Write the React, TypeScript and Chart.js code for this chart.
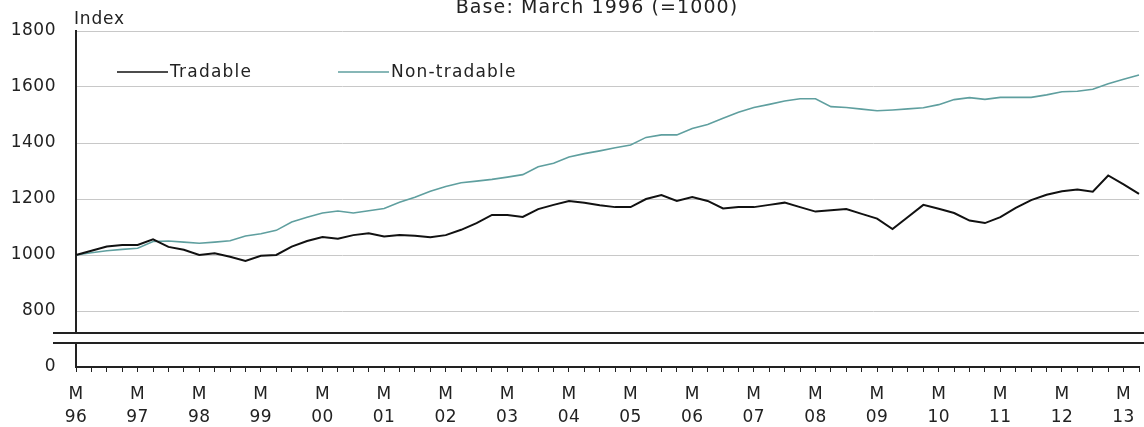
import React, { useEffect, useRef } from 'react';
import { Chart, registerables } from 'chart.js';

Chart.register(...registerables);

const YEARS = ['96', '97', '98', '99', '00', '01', '02', '03', '04', '05', '06', '07', '08', '09', '10', '11', '12', '13'];
const QUARTER_MONTHS = ['Mar', 'Jun', 'Sep', 'Dec'];
const CATEGORIES: string[] = YEARS.flatMap((y) => QUARTER_MONTHS.map((m) => `${m} ${y}`)).slice(0, 70);

const TRADABLE = [
  1000, 1015, 1030, 1036, 1036, 1056, 1029, 1019, 1000, 1006,
  994, 979, 997, 1000, 1030, 1050, 1064, 1058, 1071, 1078,
  1066, 1071, 1069, 1063, 1071, 1090, 1114, 1143, 1143, 1136,
  1164, 1179, 1193, 1187, 1178, 1171, 1171, 1200, 1214, 1193,
  1207, 1193, 1166, 1171, 1171, 1179, 1187, 1171, 1155, 1160,
  1164, 1147, 1130, 1093, 1136, 1179, 1165, 1150, 1123, 1114,
  1135, 1168, 1196, 1215, 1228, 1234, 1226, 1284, 1252, 1218,
];

const NON_TRADABLE = [
  1000, 1008, 1015, 1020, 1024, 1048, 1050, 1046, 1042, 1046,
  1051, 1068, 1076, 1088, 1118, 1135, 1150, 1157, 1150, 1158,
  1166, 1188, 1206, 1228, 1245, 1258, 1264, 1270, 1278, 1287,
  1315, 1328, 1350, 1362, 1372, 1383, 1393, 1420, 1429, 1429,
  1452, 1466, 1488, 1510, 1527, 1538, 1550, 1558, 1558, 1530,
  1527, 1521, 1515, 1518, 1522, 1526, 1537, 1555, 1562, 1556,
  1563, 1563, 1563, 1572, 1583, 1585, 1592, 1612, 1628, 1643,
];

// Broken axis: the lowest tick stands for 0
const Y_TICKS = [600, 800, 1000, 1200, 1400, 1600, 1800];
const Y_TICK_LABELS = ['0', '800', '1000', '1200', '1400', '1600', '1800'];
const BREAK_LOW = 686;
const BREAK_HIGH = 721;

const TITLE = 'Base: March 1996 (=1000)';
const AXIS_TITLE = 'Index';
const SERIES_NAMES = ['Tradable', 'Non-tradable'];
const COLORS = ['#111111', '#5f9f9f'];

const FONT_FAMILY = '"DejaVu Sans", Verdana, sans-serif';
const FONT_SIZE = 17;
const TEXT_COLOR = '#222222';

const setSpacing = (chart: any) => {
  (chart.ctx as any).letterSpacing = '0.5px';
};

const decorPlugin = {
  id: 'decor',
  beforeUpdate: setSpacing,
  beforeLayout: setSpacing,
  beforeDraw: setSpacing,
  afterDraw(chart: any) {
    const ctx = chart.ctx as CanvasRenderingContext2D & { letterSpacing: string };
    const y = chart.scales.y;
    const area = chart.chartArea;
    const yHigh = y.getPixelForValue(BREAK_HIGH);
    const yLow = y.getPixelForValue(BREAK_LOW);
    ctx.save();
    // axis break
    ctx.fillStyle = '#ffffff';
    ctx.fillRect(area.left - 4, yHigh, chart.width, yLow - yHigh);
    ctx.strokeStyle = '#222222';
    ctx.lineWidth = 2;
    ctx.beginPath();
    ctx.moveTo(53, yHigh);
    ctx.lineTo(chart.width, yHigh);
    ctx.moveTo(53, yLow);
    ctx.lineTo(chart.width, yLow);
    ctx.stroke();

    ctx.fillStyle = TEXT_COLOR;
    ctx.textBaseline = 'alphabetic';
    // title (cut at top)
    ctx.font = `19px ${FONT_FAMILY}`;
    ctx.letterSpacing = '1.1px';
    ctx.textAlign = 'center';
    ctx.fillText(TITLE, 597, 13);
    // axis unit
    ctx.font = `${FONT_SIZE}px ${FONT_FAMILY}`;
    ctx.letterSpacing = '0.8px';
    ctx.textAlign = 'left';
    ctx.fillText(AXIS_TITLE, 74, area.top - 7);

    // legend
    const legendY = 72;
    const items = [
      { x: 117, ds: chart.data.datasets[0] },
      { x: 338, ds: chart.data.datasets[1] },
    ];
    ctx.textBaseline = 'middle';
    ctx.letterSpacing = '1.2px';
    for (const it of items) {
      ctx.strokeStyle = it.ds.borderColor;
      ctx.lineWidth = 1.6;
      ctx.beginPath();
      ctx.moveTo(it.x, legendY);
      ctx.lineTo(it.x + 51, legendY);
      ctx.stroke();
      ctx.fillStyle = TEXT_COLOR;
      ctx.fillText(it.ds.label, it.x + 53, legendY + 1);
    }
    ctx.restore();
  },
};

export default function App() {
  const canvasRef = useRef<HTMLCanvasElement | null>(null);

  useEffect(() => {
    if (!canvasRef.current) return;
    const chart = new Chart(canvasRef.current, {
      type: 'line',
      data: {
        labels: CATEGORIES,
        datasets: [
          {
            label: SERIES_NAMES[0],
            data: TRADABLE,
            borderColor: COLORS[0],
            backgroundColor: COLORS[0],
            borderWidth: 2,
            pointRadius: 0,
            tension: 0,
          },
          {
            label: SERIES_NAMES[1],
            data: NON_TRADABLE,
            borderColor: COLORS[1],
            backgroundColor: COLORS[1],
            borderWidth: 1.6,
            pointRadius: 0,
            tension: 0,
          },
        ],
      },
      options: {
        animation: false,
        responsive: false,
        devicePixelRatio: 1,
        layout: { padding: { top: 31, right: 4.5, left: 0, bottom: 0 } },
        plugins: {
          legend: { display: false },
          title: { display: false },
          tooltip: { enabled: false },
        },
        scales: {
          x: {
            type: 'category',
            offset: false,
            afterFit: (s: any) => {
              s.height = 60;
            },
            grid: {
              drawOnChartArea: false,
              drawTicks: true,
              tickLength: 5,
              color: '#222222',
              lineWidth: 1,
            },
            border: { color: '#222222', width: 2 },
            ticks: {
              autoSkip: false,
              maxRotation: 0,
              minRotation: 0,
              padding: 11,
              color: TEXT_COLOR,
              font: { family: FONT_FAMILY, size: FONT_SIZE, lineHeight: 1.35 },
              callback: (_v: any, i: number) => (i % 4 === 0 ? ['M', YEARS[i / 4]] : ''),
            },
          },
          y: {
            type: 'linear',
            min: 600,
            max: 1800,
            afterBuildTicks: (s: any) => {
              s.ticks = Y_TICKS.map((v) => ({ value: v }));
            },
            afterFit: (s: any) => {
              s.width = 76;
            },
            grid: {
              drawTicks: false,
              color: (c: any) => (c.tick && c.tick.value === Y_TICKS[0] ? 'rgba(0,0,0,0)' : '#c8c8c8'),
              lineWidth: 1,
            },
            border: { color: '#222222', width: 2 },
            ticks: {
              padding: 20,
              color: TEXT_COLOR,
              font: { family: FONT_FAMILY, size: FONT_SIZE },
              callback: (v: any) => {
                const idx = Y_TICKS.indexOf(Number(v));
                return idx >= 0 ? Y_TICK_LABELS[idx] : '';
              },
            },
          },
        },
      },
      plugins: [decorPlugin],
    });
    return () => chart.destroy();
  }, []);

  return (
    <div style={{ position: 'fixed', left: 0, top: 0, width: 1144, height: 427, overflow: 'hidden', background: '#fff' }}>
      <canvas ref={canvasRef} width={1150} height={427} style={{ display: 'block', width: 1150, height: 427 }} />
    </div>
  );
}
